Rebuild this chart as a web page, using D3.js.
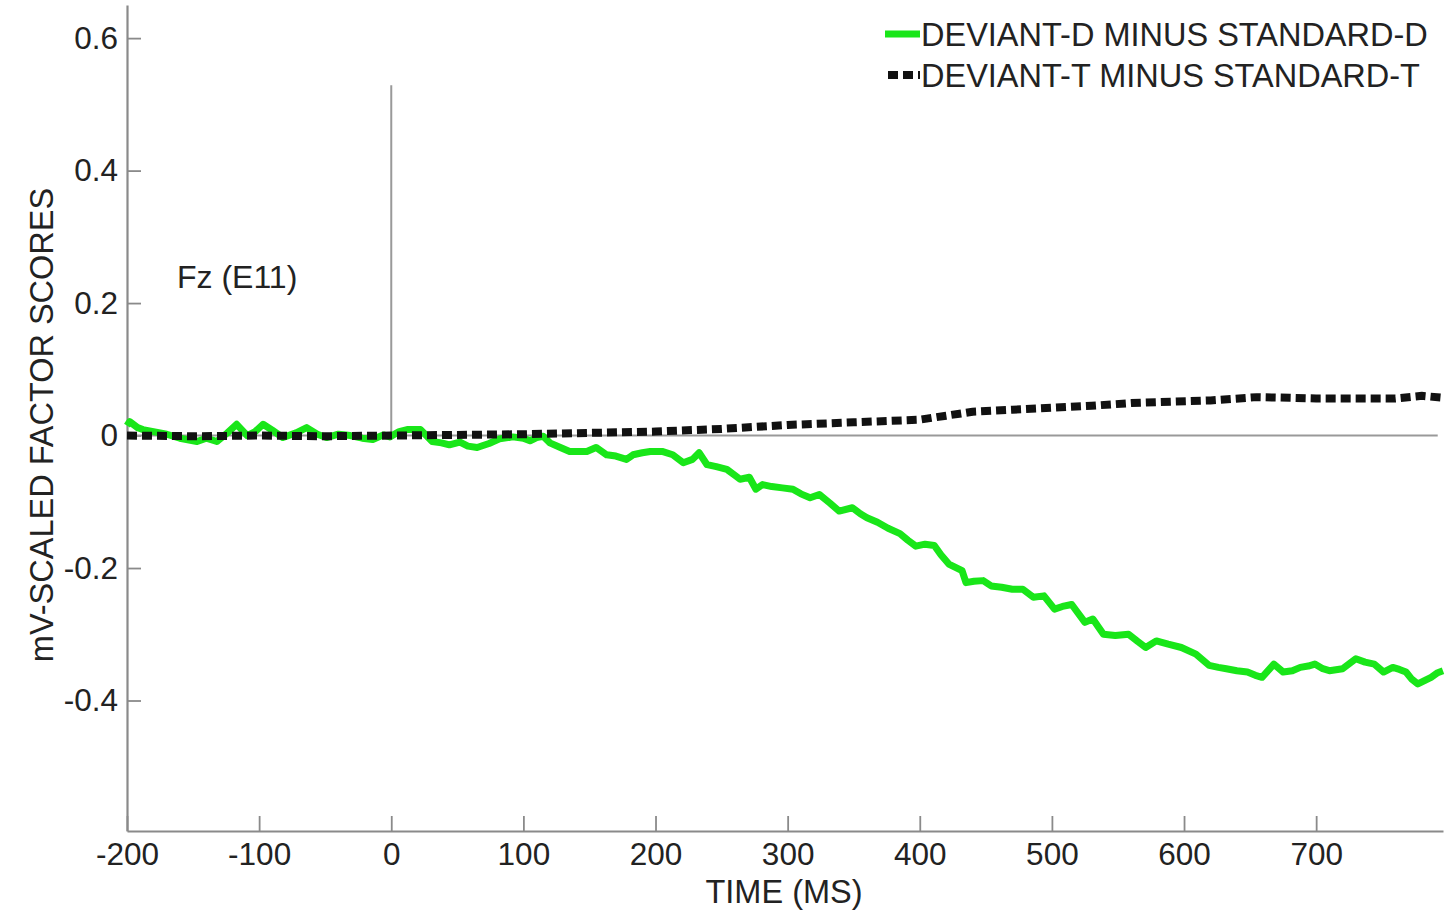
<!DOCTYPE html>
<html>
<head>
<meta charset="utf-8">
<script src="https://cdn.jsdelivr.net/npm/d3@7"></script>
<style>
  body { margin: 0; background: #fff; }
  svg text { font-family: "Liberation Sans", Arial, sans-serif; fill: #222; }
</style>
</head>
<body>
<div id="chart"></div>
<script>
// time (ms) and values for the DEVIANT-D minus STANDARD-D trace
const devDTime = [-200,-198,-192,-188,-180,-170,-160,-147,-140,-132,-124,-117,-109,-103,-97,-90,-82,-72,-64,-56,-49,-40,-31,-22,-14,-6,-1,6,12,22,31,38,44,52,58,65,74,82,92,100,105,110,115,120,128,135,143,148,155,163,170,178,183,190,196,205,213,221,228,233,239,246,254,260,264,271,276,281,288,296,304,310,317,324,332,339,349,355,360,368,376,385,391,397,404,411,416,422,432,435,441,448,454,462,470,478,486,494,502,508,515,525,531,539,548,558,565,571,579,588,598,609,619,626,632,640,648,654,659,668,675,682,688,694,699,705,710,720,730,737,744,751,758,763,768,772,777,782,787,792,796];
const devDValues = [0.015,0.021,0.012,0.009,0.006,0.002,-0.004,-0.009,-0.004,-0.009,0.004,0.017,0.0,0.006,0.017,0.008,-0.003,0.004,0.012,0.002,-0.003,0.002,0.0,-0.004,-0.006,0.001,-0.002,0.006,0.009,0.009,-0.009,-0.011,-0.014,-0.010,-0.016,-0.018,-0.012,-0.005,-0.002,-0.004,-0.008,-0.003,-0.001,-0.011,-0.018,-0.024,-0.024,-0.024,-0.018,-0.029,-0.031,-0.036,-0.029,-0.026,-0.024,-0.024,-0.029,-0.041,-0.036,-0.026,-0.044,-0.047,-0.051,-0.060,-0.066,-0.063,-0.081,-0.074,-0.077,-0.079,-0.081,-0.088,-0.094,-0.089,-0.102,-0.114,-0.109,-0.118,-0.124,-0.131,-0.140,-0.148,-0.158,-0.167,-0.164,-0.166,-0.180,-0.194,-0.204,-0.222,-0.220,-0.219,-0.227,-0.229,-0.232,-0.232,-0.244,-0.242,-0.262,-0.258,-0.255,-0.282,-0.277,-0.300,-0.302,-0.300,-0.311,-0.320,-0.310,-0.315,-0.320,-0.330,-0.347,-0.350,-0.352,-0.355,-0.357,-0.362,-0.365,-0.345,-0.357,-0.355,-0.350,-0.348,-0.345,-0.352,-0.355,-0.352,-0.337,-0.342,-0.345,-0.357,-0.350,-0.353,-0.357,-0.367,-0.375,-0.370,-0.365,-0.358,-0.355];

// DEVIANT-T minus STANDARD-T trace
const devTTime = [-200,-150,-100,-50,0,50,100,150,200,250,300,350,400,420,440,470,500,530,560,590,620,655,680,700,730,760,780,796];
const devTValues = [0.0,-0.001,0.0,-0.001,0.0,0.001,0.002,0.004,0.006,0.010,0.016,0.020,0.024,0.030,0.036,0.039,0.042,0.045,0.049,0.051,0.053,0.058,0.057,0.056,0.056,0.056,0.060,0.057];

const xTicks = [-200,-100,0,100,200,300,400,500,600,700];
const yTicks = [-0.4,-0.2,0,0.2,0.4,0.6];
const seriesNames = ["DEVIANT-D MINUS STANDARD-D", "DEVIANT-T MINUS STANDARD-T"];

const W = 1449, H = 915;
const margin = { top: 5, right: 6, bottom: 84, left: 127 };
const width = W - margin.left - margin.right,
      height = H - margin.top - margin.bottom;

const svg = d3.select("#chart").append("svg")
    .attr("width", W)
    .attr("height", H);

const g = svg.append("g")
    .attr("transform", `translate(${margin.left}, ${margin.top})`);

const x = d3.scaleLinear().domain([-200, 796]).range([0, width]);
const y = d3.scaleLinear().domain([-0.597, 0.65]).range([height, 0]);

// axes, ticks pointing inward like matlab (plain hyphen for negatives)
const xAxis = g.append("g")
    .attr("transform", `translate(0, ${height})`)
    .call(d3.axisBottom(x).tickValues(xTicks).tickSizeInner(-15).tickSizeOuter(0).tickPadding(12).tickFormat(d => String(d)));
const yAxis = g.append("g")
    .call(d3.axisLeft(y).tickValues(yTicks).tickSizeInner(-14).tickSizeOuter(0).tickPadding(9).tickFormat(d => d === 0 ? "0" : d.toFixed(1)));

[xAxis, yAxis].forEach(a => {
  a.select(".domain").attr("stroke", "#8a8a8a").attr("stroke-width", 2.2);
  a.selectAll(".tick line").attr("stroke", "#8a8a8a").attr("stroke-width", 1.8);
  a.selectAll(".tick text").style("font-size", "31.5px").attr("fill", "#222");
});
xAxis.selectAll(".tick text").attr("dy", "0.71em");

// zero line and stimulus onset line
g.append("line")
    .attr("x1", x(-200)).attr("x2", x(792))
    .attr("y1", y(0)).attr("y2", y(0))
    .attr("stroke", "#999").attr("stroke-width", 2);
g.append("line")
    .attr("x1", x(0)).attr("x2", x(0))
    .attr("y1", y(0)).attr("y2", y(0.529))
    .attr("stroke", "#999").attr("stroke-width", 2);

const line = d3.line().x(d => x(d[0])).y(d => y(d[1]));

g.append("path")
    .datum(devDTime.map((t, i) => [t, devDValues[i]]))
    .attr("d", line)
    .attr("fill", "none")
    .attr("stroke", "#19e619")
    .attr("stroke-width", 7)
    .attr("stroke-linejoin", "round");

g.append("path")
    .datum(devTTime.map((t, i) => [t, devTValues[i]]))
    .attr("d", line)
    .attr("fill", "none")
    .attr("stroke", "#111")
    .attr("stroke-width", 8)
    .attr("stroke-dasharray", "10,5");

// label
svg.append("text")
    .attr("x", 177).attr("y", 288)
    .style("font-size", "32px")
    .text("Fz (E11)");

// axis titles
svg.append("text")
    .attr("x", 784).attr("y", 903)
    .attr("text-anchor", "middle")
    .style("font-size", "32.5px")
    .text("TIME (MS)");
svg.append("text")
    .attr("transform", "translate(53, 425) rotate(-90)")
    .attr("text-anchor", "middle")
    .style("font-size", "32.5px")
    .text("mV-SCALED FACTOR SCORES");

// legend
const legend = svg.append("g");
legend.append("line")
    .attr("x1", 885).attr("x2", 920).attr("y1", 34).attr("y2", 34)
    .attr("stroke", "#19e619").attr("stroke-width", 7);
legend.append("line")
    .attr("x1", 888).attr("x2", 920).attr("y1", 75).attr("y2", 75)
    .attr("stroke", "#111").attr("stroke-width", 8).attr("stroke-dasharray", "10,5");
legend.selectAll("text.leg")
    .data(seriesNames)
    .enter().append("text")
    .attr("class", "leg")
    .attr("x", 921)
    .attr("y", (d, i) => 46 + i * 41)
    .style("font-size", "32.5px")
    .text(d => d);
</script>
</body>
</html>
